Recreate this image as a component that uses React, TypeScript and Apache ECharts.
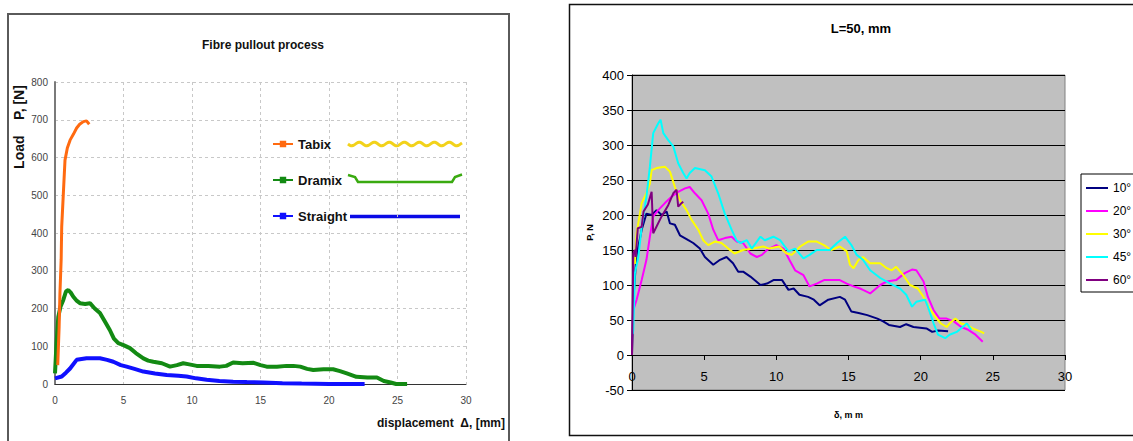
import React, { useEffect, useRef } from "react";
import * as echarts from "echarts";

// ---------- Left chart: Fibre pullout process ----------
const leftTitle = "Fibre pullout process";
const leftSeriesNames = ["Tabix", "Dramix", "Straight"];
const tabix: number[][] = [
  [0.2, 50], [0.3, 150], [0.36, 240], [0.45, 330], [0.49, 417], [0.61, 505], [0.73, 593],
  [0.9, 625], [1.1, 646], [1.35, 662], [1.58, 678], [1.8, 688], [2.07, 695], [2.3, 697], [2.5, 688],
];
const dramix: number[][] = [
  [0, 28], [0.1, 100], [0.24, 178], [0.4, 205], [0.6, 222], [0.8, 245], [0.97, 249], [1.15, 242],
  [1.34, 231], [1.6, 220], [1.82, 214], [2.2, 212], [2.55, 214], [2.9, 200], [3.28, 188], [3.6, 168],
  [4.0, 143], [4.3, 120], [4.62, 108], [5.0, 103], [5.47, 95], [5.9, 82], [6.45, 68], [6.8, 62],
  [7.18, 59], [7.8, 55], [8.4, 46], [8.9, 50], [9.36, 55], [9.8, 52], [10.34, 48], [11.2, 48],
  [12.04, 46], [12.5, 48], [13.0, 57], [13.7, 55], [14.5, 56], [15.0, 50], [15.45, 46], [16.2, 46],
  [16.9, 48], [17.4, 48], [17.9, 46], [18.4, 40], [18.85, 37], [19.6, 39], [20.3, 39], [20.8, 34],
  [21.3, 28], [22.0, 19], [22.8, 17], [23.5, 17], [24.0, 8], [24.5, 4], [24.9, 0], [25.7, 0],
];
const straight: number[][] = [
  [0, 15], [0.49, 20], [0.8, 30], [1.1, 41], [1.58, 64], [2.3, 68], [3.28, 68], [3.8, 64],
  [4.26, 59], [4.8, 50], [5.23, 46], [5.8, 40], [6.45, 33], [7.3, 28], [8.15, 24], [9.0, 22],
  [9.6, 20], [10.3, 15], [11.07, 11], [12.0, 8], [13.0, 6], [14.0, 5], [15.2, 4], [16.6, 2],
  [18.0, 1], [20.0, 0], [22.6, 0],
];
const leftXRange = [0, 30, 5];
const leftYRange = [0, 800, 100];

// ---------- Right chart: L=50, mm ----------
const rightTitle = "L=50, mm";
const rightSeriesNames = ["10°", "20°", "30°", "45°", "60°"];
const d10: number[][] = [
  [0, 0], [0.05, 40], [0.09, 79], [0.2, 110], [0.3, 140], [0.44, 155], [0.67, 179], [1.0, 202],
  [1.36, 200], [1.7, 207], [2.05, 200], [2.4, 205], [2.63, 188], [2.97, 186], [3.32, 171], [3.9, 164],
  [4.24, 160], [4.7, 152], [5.05, 140], [5.63, 129], [6.1, 136], [6.55, 140], [7.0, 131], [7.36, 119],
  [7.7, 119], [8.2, 112], [8.9, 100], [9.35, 102], [9.8, 107], [10.4, 107], [10.84, 93], [11.2, 95],
  [11.6, 86], [12.2, 83], [12.6, 79], [13.0, 71], [13.6, 79], [14.4, 83], [14.76, 79], [15.2, 62],
  [15.7, 60], [16.3, 57], [17.0, 52], [17.4, 48], [17.8, 43], [18.57, 40], [19.0, 44], [19.5, 40],
  [20.4, 38], [20.8, 33], [21.2, 35], [21.9, 34],
];
const d20: number[][] = [
  [0.05, 40], [0.09, 64], [0.32, 79], [0.67, 107], [1.0, 136], [1.24, 169], [1.47, 198], [1.82, 207],
  [2.28, 217], [2.74, 226], [3.2, 233], [3.67, 238], [4.0, 240], [4.36, 231], [4.82, 221], [5.28, 202],
  [5.63, 179], [5.97, 164], [6.43, 167], [6.9, 169], [7.26, 162], [7.7, 160], [8.2, 145], [8.65, 140],
  [9.0, 143], [9.35, 150], [10.0, 157], [10.5, 152], [10.9, 136], [11.3, 121], [11.88, 114], [12.3, 98],
  [12.8, 102], [13.3, 107], [13.95, 107], [14.4, 107], [14.88, 102], [15.35, 98], [15.8, 95], [16.0, 93],
  [16.5, 88], [17.2, 100], [17.65, 105], [18.3, 107], [18.9, 117], [19.4, 122], [19.7, 121], [20.2, 105],
  [20.5, 83], [20.9, 64], [21.3, 52], [21.8, 52], [22.3, 48], [22.8, 40], [23.3, 36], [23.8, 29], [24.3, 19],
];
const d30: number[][] = [
  [0.2, 130], [0.32, 174], [0.67, 217], [1.0, 231], [1.24, 245], [1.36, 264], [1.7, 267], [2.28, 269],
  [2.63, 262], [2.97, 240], [3.32, 221], [3.78, 207], [4.13, 193], [4.59, 179], [4.93, 164], [5.28, 157],
  [5.74, 162], [6.2, 160], [6.67, 152], [7.1, 145], [7.7, 150], [8.4, 152], [9.1, 155], [9.5, 152],
  [10.2, 155], [10.7, 145], [11.07, 143], [11.65, 155], [12.2, 162], [12.8, 162], [13.3, 157], [13.8, 150],
  [14.4, 155], [14.88, 148], [15.1, 129], [15.35, 124], [15.7, 136], [16.0, 140], [16.5, 131], [17.2, 131],
  [17.65, 124], [18.0, 121], [18.3, 126], [18.8, 114], [19.26, 100], [19.8, 95], [20.2, 83], [20.6, 67],
  [21.0, 55], [21.4, 45], [21.8, 40], [22.0, 45], [22.4, 52], [22.8, 45], [23.2, 43], [23.6, 38],
  [24.2, 33], [24.4, 31],
];
const d45: number[][] = [
  [0.05, 30], [0.09, 36], [0.2, 117], [0.44, 140], [0.67, 183], [1.0, 226], [1.24, 269], [1.47, 317],
  [1.82, 331], [1.98, 336], [2.17, 317], [2.51, 307], [2.86, 298], [3.2, 274], [3.55, 260], [3.78, 252],
  [4.0, 260], [4.36, 267], [5.05, 264], [5.51, 255], [5.97, 231], [6.43, 202], [6.9, 179], [7.24, 164],
  [7.5, 160], [7.96, 164], [8.3, 152], [8.9, 169], [9.2, 164], [9.8, 169], [10.26, 164], [10.84, 148],
  [11.3, 152], [11.88, 138], [12.3, 143], [12.8, 150], [13.7, 150], [14.2, 160], [14.76, 169], [15.2, 157],
  [15.57, 143], [16.0, 136], [16.5, 121], [17.2, 110], [17.9, 102], [18.57, 95], [19.0, 86], [19.4, 69],
  [19.7, 76], [20.3, 79], [20.5, 69], [20.9, 45], [21.2, 29], [21.7, 24], [22.0, 29], [22.5, 33],
  [23.2, 45], [23.5, 36],
];
const d60: number[][] = [
  [0, 0], [0.09, 145], [0.2, 150], [0.25, 140], [0.4, 181], [0.67, 183], [0.8, 205], [1.1, 215],
  [1.36, 233], [1.47, 174], [2.05, 198], [2.51, 214], [2.86, 231], [3.09, 236], [3.2, 212], [3.43, 217],
  [3.55, 219],
];
const rightXRange = [0, 30, 5];
const rightYRange = [-50, 400, 50];

const BOLD = "'Liberation Sans', Arial, sans-serif";
const ARIAL = "'Liberation Sans', Arial, sans-serif";

function wavyPoints(x0: number, x1: number, y: number, amp: number, period: number) {
  const pts: number[][] = [];
  for (let x = x0; x <= x1; x += 1) {
    pts.push([x, y + amp * Math.sin(((x - x0) / period) * Math.PI * 2)]);
  }
  return pts;
}

export default function App() {
  const ref = useRef<HTMLDivElement>(null);
  useEffect(() => {
    if (!ref.current) return;
    const chart = echarts.init(ref.current, undefined, { renderer: "svg" });
    const leftColors = ["#ff6a10", "#138a13", "#1010ff"];
    const rightColors = ["#000080", "#ff00ff", "#ffff00", "#00ffff", "#800080"];
    const leftData = [tabix, dramix, straight];
    const leftWidths = [3, 4, 4];
    const rightData = [d10, d20, d30, d45, d60];

    const rightGridTop = 75;
    const rightGridHeight = 315;
    // x axis sits on the zero line of the y axis
    const zeroOffset = -(rightGridHeight * (0 - rightYRange[0])) / (rightYRange[1] - rightYRange[0]);

    const option: any = {
      animation: false,
      backgroundColor: "#ffffff",
      title: [
        {
          text: leftTitle,
          left: 258,
          top: 34,
          textAlign: "center",
          textStyle: { fontFamily: BOLD, fontSize: 12, fontWeight: "bold", color: "#111" },
        },
        {
          text: rightTitle,
          left: 856,
          top: 17,
          textAlign: "center",
          textStyle: { fontFamily: ARIAL, fontSize: 13, fontWeight: "bold", color: "#000" },
        },
      ],
      legend: [
        {
          data: leftSeriesNames,
          orient: "vertical",
          left: 272,
          top: 136,
          itemWidth: 20,
          itemHeight: 8,
          itemGap: 20,
          padding: 0,
          textStyle: { fontFamily: BOLD, fontSize: 13, fontWeight: "bold", color: "#111", lineHeight: 16 },
        },
        {
          data: rightSeriesNames,
          orient: "vertical",
          left: 1081,
          top: 174,
          icon: "rect",
          itemWidth: 22,
          itemHeight: 2,
          itemGap: 9,
          padding: [7, 40, 5, 5],
          borderColor: "#000",
          borderWidth: 1,
          backgroundColor: "#ffffff",
          textStyle: { fontFamily: ARIAL, fontSize: 12, color: "#000", lineHeight: 14 },
        },
      ],
      grid: [
        { left: 55, top: 82, width: 411, height: 302, containLabel: false, outerBoundsMode: "none" },
        {
          left: 632, top: rightGridTop, width: 433, height: rightGridHeight, containLabel: false,
          outerBoundsMode: "none",
          show: true, backgroundColor: "#c0c0c0", borderColor: "#808080", borderWidth: 1,
        },
      ],
      xAxis: [
        {
          type: "value", gridIndex: 0,
          min: leftXRange[0], max: leftXRange[1], interval: leftXRange[2],
          axisLine: { show: true, lineStyle: { color: "#333", width: 1 } },
          axisTick: { show: false },
          axisLabel: { fontFamily: BOLD, fontSize: 10, color: "#444", margin: 11 },
          splitLine: { show: true, lineStyle: { color: "#c8c8c8", type: [3, 3], width: 1 } },
        },
        {
          type: "value", gridIndex: 1,
          min: rightXRange[0], max: rightXRange[1], interval: rightXRange[2],
          offset: zeroOffset,
          axisLine: { show: true, onZero: false, lineStyle: { color: "#000", width: 1 } },
          axisTick: { show: true, inside: false, length: 5, lineStyle: { color: "#000" } },
          axisLabel: { fontFamily: ARIAL, fontSize: 13, color: "#000", margin: 15 },
          splitLine: { show: false },
          name: "δ, m m",
          nameLocation: "middle",
          nameGap: 55,
          nameTextStyle: { fontFamily: ARIAL, fontSize: 9, fontWeight: "bold", color: "#000" },
        },
      ],
      yAxis: [
        {
          type: "value", gridIndex: 0,
          min: leftYRange[0], max: leftYRange[1], interval: leftYRange[2],
          axisLine: { show: true, lineStyle: { color: "#7a7a7a", width: 2 } },
          axisTick: { show: false },
          axisLabel: { fontFamily: BOLD, fontSize: 10, color: "#444", margin: 7 },
          splitLine: { show: true, lineStyle: { color: "#c8c8c8", type: [3, 3], width: 1 } },
        },
        {
          type: "value", gridIndex: 1,
          min: rightYRange[0], max: rightYRange[1], interval: rightYRange[2],
          axisLine: { show: true, onZero: false, lineStyle: { color: "#000", width: 1 } },
          axisTick: { show: true, inside: false, length: 5, lineStyle: { color: "#000" } },
          axisLabel: { fontFamily: ARIAL, fontSize: 13, color: "#000", margin: 8 },
          splitLine: { show: true, lineStyle: { color: "#000", width: 1 } },
          name: "P, N",
          nameLocation: "middle",
          nameGap: 38,
          nameTextStyle: { fontFamily: ARIAL, fontSize: 9, fontWeight: "bold", color: "#000" },
        },
      ],
      series: [
        ...leftData.map((d, i) => ({
          name: leftSeriesNames[i],
          type: "line",
          xAxisIndex: 0,
          yAxisIndex: 0,
          data: d,
          showSymbol: false,
          symbol: "rect",
          symbolSize: 4,
          lineStyle: { color: leftColors[i], width: leftWidths[i] },
          itemStyle: { color: leftColors[i] },
          z: 5 - i,
        })),
        ...rightData.map((d, i) => ({
          name: rightSeriesNames[i],
          type: "line",
          xAxisIndex: 1,
          yAxisIndex: 1,
          data: d,
          symbol: "none",
          lineStyle: { color: rightColors[i], width: 2 },
          itemStyle: { color: rightColors[i] },
        })),
      ],
      graphic: [
        {
          type: "rect",
          shape: { x: 8, y: 14, width: 501, height: 440 },
          style: { fill: "none", stroke: "#5a5a5a", lineWidth: 2 },
          silent: true,
        },
        {
          type: "rect",
          shape: { x: 569.5, y: 4.5, width: 600, height: 431 },
          style: { fill: "none", stroke: "#111", lineWidth: 1.5 },
          silent: true,
        },
        {
          type: "text",
          x: 19,
          y: 127,
          rotation: Math.PI / 2,
          style: {
            text: "Load    P, [N]",
            fontFamily: BOLD,
            fontSize: 14,
            fontWeight: "bold",
            fill: "#111",
            align: "center",
            verticalAlign: "middle",
          },
        },
        {
          type: "text",
          x: 505,
          y: 423,
          style: {
            text: "displacement  Δ, [mm]",
            fontFamily: BOLD,
            fontSize: 12,
            fontWeight: "bold",
            fill: "#111",
            align: "right",
            verticalAlign: "middle",
          },
        },
        // fibre shape icons next to the left legend
        {
          type: "polyline",
          shape: { points: wavyPoints(348, 462, 144, 1.8, 15) },
          style: { stroke: "#f2d21a", lineWidth: 3, fill: "none" },
        },
        {
          type: "polyline",
          shape: { points: [[348, 175], [355, 177], [358, 182], [452, 182], [455, 177], [462, 174.5]] },
          style: { stroke: "#3aaa10", lineWidth: 2.5, fill: "none" },
        },
        {
          type: "line",
          shape: { x1: 350, y1: 216.5, x2: 460, y2: 216.5 },
          style: { stroke: "#0a0ae6", lineWidth: 3.5 },
        },
      ],
    };
    chart.setOption(option);
    return () => chart.dispose();
  }, []);
  return (
    <div
      ref={ref}
      style={{ position: "absolute", left: 0, top: 0, width: 1133, height: 441, background: "#fff" }}
    />
  );
}
